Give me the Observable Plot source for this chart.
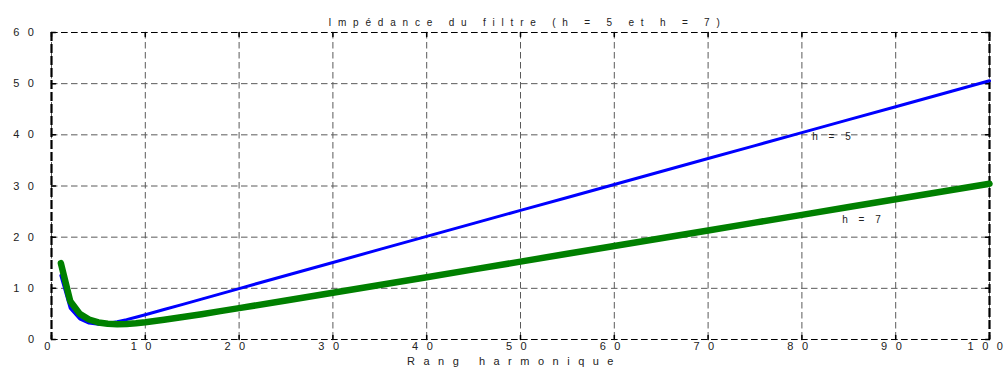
<!DOCTYPE html>
<html>
<head>
<meta charset="utf-8">
<script src="https://cdn.jsdelivr.net/npm/d3@7"></script>
<script src="https://cdn.jsdelivr.net/npm/@observablehq/plot@0.6"></script>
<style>
  html, body { margin: 0; padding: 0; background: #fff; }
  #chart svg { display: block; }
</style>
</head>
<body>
<div id="chart"></div>
<script>
// Harmonic ranks at which the impedance is sampled
const rang = [1, 2, 3, 4, 5, 6, 7, 8, 9, 10, 12, 14, 16, 18, 20, 25, 30, 35, 40, 45,
              50, 55, 60, 65, 70, 75, 80, 85, 90, 95, 100];

// Filter impedance (ohms) – filter tuned on h = 5
const zH5 = [12.5, 6.1, 4.03, 3.21, 3.0, 3.14, 3.47, 3.88, 4.35, 4.84, 5.85, 6.87, 7.9, 8.92, 9.95,
             12.51, 15.06, 17.61, 20.15, 22.69, 25.23, 27.76, 30.3, 32.83, 35.37, 37.9, 40.43,
             42.97, 45.5, 48.03, 50.56];

// Filter impedance (ohms) – filter tuned on h = 7
const zH7 = [14.92, 7.48, 5.05, 3.91, 3.34, 3.07, 3.0, 3.05, 3.19, 3.38, 3.85, 4.38, 4.95, 5.54, 6.13,
             7.63, 9.14, 10.66, 12.18, 13.7, 15.22, 16.75, 18.27, 19.79, 21.31, 22.84, 24.36,
             25.88, 27.4, 28.93, 30.45];

const xTicks = [0, 10, 20, 30, 40, 50, 60, 70, 80, 90, 100];
const yTicks = [0, 10, 20, 30, 40, 50, 60];

const curveNames = ["h = 5", "h = 7"];
const curveLabelX = [81.1, 84.3];
const curveLabelY = [39.6, 23.4];

const titleText = "Impédance du filtre (h = 5 et h = 7)";
const xLabelText = "Rang harmonique";

const seriesH5 = rang.map((h, i) => ({h, z: zH5[i]}));
const seriesH7 = rang.map((h, i) => ({h, z: zH7[i]}));
const curveLabels = curveNames.map((t, i) => ({t, x: curveLabelX[i], y: curveLabelY[i]}));

// short inward tick drawn from the frame edge
const tickShape = {draw(context, l) { context.moveTo(0, 0); context.lineTo(0, -l); }};

const chart = Plot.plot({
  width: 1006,
  height: 370,
  marginLeft: 51,
  marginRight: 17,
  marginTop: 32,
  marginBottom: 31,
  style: {
    fontFamily: '"Liberation Sans", Arial, sans-serif',
    fontSize: "11px",
    color: "#222",
    background: "#fff",
    overflow: "visible"
  },
  x: {domain: [0, 100]},
  y: {domain: [0, 60]},
  marks: [
    Plot.gridX(xTicks, {stroke: "#5a5a5a", strokeOpacity: 1, strokeDasharray: "6.5,3.5"}),
    Plot.gridY(yTicks, {stroke: "#5a5a5a", strokeOpacity: 1, strokeDasharray: "6.5,3.5"}),
    // frame
    Plot.ruleY([0, 60], {stroke: "#000", strokeWidth: 1, strokeDasharray: "6.5,3.5"}),
    Plot.ruleX([0, 100], {stroke: "#000", strokeWidth: 2.2, strokeDasharray: "9,3"}),
    // inward ticks
    Plot.vector(xTicks, {x: d => d, frameAnchor: "bottom", rotate: 0, length: 4, anchor: "start", shape: tickShape, stroke: "#000"}),
    Plot.vector(xTicks, {x: d => d, frameAnchor: "top", rotate: 180, length: 4, anchor: "start", shape: tickShape, stroke: "#000"}),
    Plot.vector(yTicks, {y: d => d, frameAnchor: "left", rotate: 90, length: 4, anchor: "start", shape: tickShape, stroke: "#000"}),
    Plot.vector(yTicks, {y: d => d, frameAnchor: "right", rotate: 270, length: 4, anchor: "start", shape: tickShape, stroke: "#000"}),
    Plot.axisX(xTicks, {tickSize: 0, tickPadding: 3, label: null, fill: "#222"}),
    Plot.axisY(yTicks, {tickSize: 0, tickPadding: 9, label: null, fill: "#222"}),
    // curves
    Plot.line(seriesH5, {x: "h", y: "z", stroke: "#0000ff", strokeWidth: 3, strokeLinejoin: "round", strokeLinecap: "round"}),
    Plot.line(seriesH7, {x: "h", y: "z", stroke: "#008000", strokeWidth: 6.5, strokeLinejoin: "round", strokeLinecap: "round"}),
    Plot.text(curveLabels, {x: "x", y: "y", text: "t", textAnchor: "start", fontSize: 10, fill: "#222"}),
    Plot.text([titleText], {text: d => d, frameAnchor: "top", dy: -14, dx: 7, fontSize: 10, fill: "#222"}),
    Plot.text([xLabelText], {text: d => d, frameAnchor: "bottom", dy: 25.5, dx: -6, fontSize: 11, fill: "#222"})
  ]
});

// letter-spaced typography: axis text wide, title and curve names tighter
const svg = d3.select(chart);
svg.style("letter-spacing", "8.5px");
svg.selectAll("text").filter(function () { return this.textContent === titleText; })
  .style("letter-spacing", "6.8px");
svg.selectAll("text").filter(function () { return curveNames.includes(this.textContent); })
  .style("letter-spacing", "4px");
document.getElementById("chart").appendChild(chart);
</script>
</body>
</html>
